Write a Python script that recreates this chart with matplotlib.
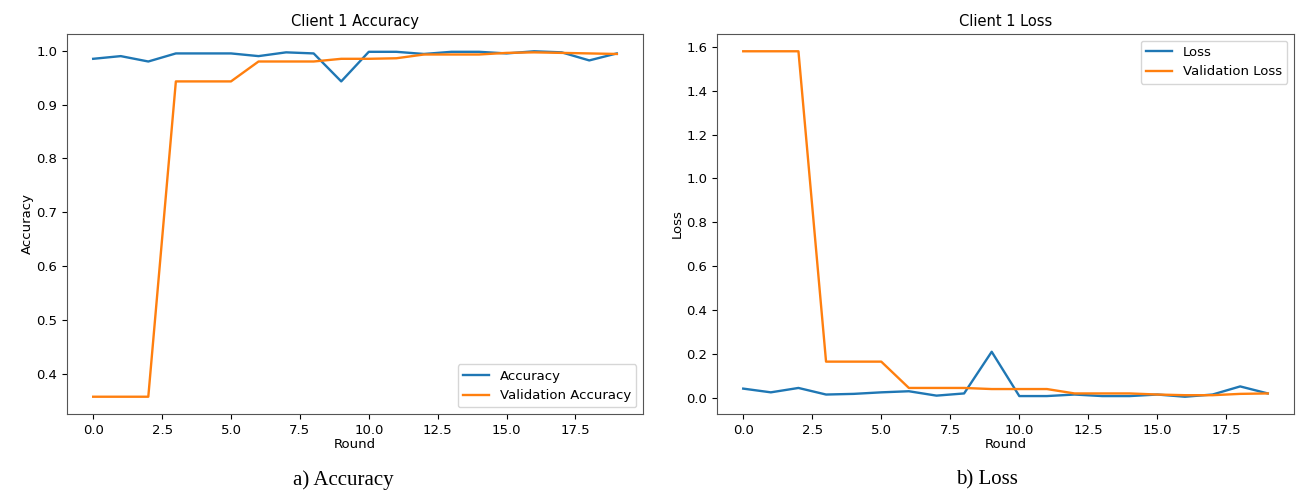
import matplotlib.pyplot as plt
import numpy as np

rounds = np.arange(20)

accuracy = [0.985, 0.990, 0.980, 0.995, 0.995, 0.995, 0.990, 0.997, 0.995, 0.943,
            0.998, 0.998, 0.994, 0.998, 0.998, 0.995, 0.999, 0.997, 0.982, 0.995]
val_accuracy = [0.357, 0.357, 0.357, 0.943, 0.943, 0.943, 0.980, 0.980, 0.980, 0.985,
                0.985, 0.986, 0.993, 0.993, 0.993, 0.996, 0.997, 0.996, 0.995, 0.994]

loss = [0.042, 0.025, 0.045, 0.015, 0.018, 0.025, 0.030, 0.010, 0.020, 0.210,
        0.008, 0.008, 0.015, 0.008, 0.008, 0.015, 0.005, 0.015, 0.052, 0.020]
val_loss = [1.58, 1.58, 1.58, 0.165, 0.165, 0.165, 0.045, 0.045, 0.045, 0.040,
            0.040, 0.040, 0.020, 0.020, 0.020, 0.015, 0.012, 0.012, 0.018, 0.020]

plt.rcParams['font.size'] = 9.5
plt.rcParams['lines.linewidth'] = 1.7

fig = plt.figure(figsize=(12.99, 4.93), dpi=100)
W, H = 1299, 493

# accuracy panel
ax1 = fig.add_axes([67 / W, (H - 414) / H, (643 - 67) / W, (414 - 34) / H])
ax1.plot(rounds, accuracy, label='Accuracy')
ax1.plot(rounds, val_accuracy, label='Validation Accuracy')
ax1.set_title('Client 1 Accuracy', fontsize=10.5)
ax1.set_xlabel('Round', labelpad=1)
ax1.set_ylabel('Accuracy', labelpad=2)
ax1.set_xticks([0, 2.5, 5, 7.5, 10, 12.5, 15, 17.5])
ax1.legend(loc='lower right')

# loss panel
ax2 = fig.add_axes([717 / W, (H - 414) / H, (1294 - 717) / W, (414 - 34) / H])
ax2.plot(rounds, loss, label='Loss')
ax2.plot(rounds, val_loss, label='Validation Loss')
ax2.set_title('Client 1 Loss', fontsize=10.5)
ax2.set_xlabel('Round', labelpad=1)
ax2.set_ylabel('Loss', labelpad=2)
ax2.set_xticks([0, 2.5, 5, 7.5, 10, 12.5, 15, 17.5])
ax2.legend(loc='upper right')

for ax in (ax1, ax2):
    for sp in ax.spines.values():
        sp.set_color('#555555')

fig.text(343 / W, 1 - 480 / H, 'a) Accuracy', ha='center', va='center',
         family='Liberation Serif', fontsize=15)
fig.text(987 / W, 1 - 480 / H, 'b) Loss', ha='center', va='center',
         family='Liberation Serif', fontsize=15)

fig.savefig('out.png', dpi=100)
